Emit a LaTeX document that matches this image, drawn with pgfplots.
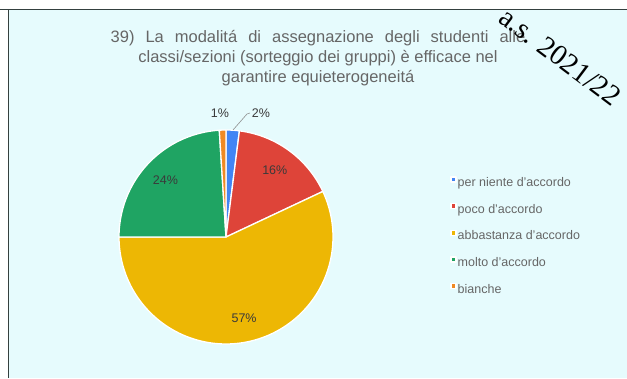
\documentclass[border=0pt]{standalone}
\usepackage{pgfplots}
\pgfplotsset{compat=1.18}
\usepackage{pgfplotstable}
\usepackage{fontspec}
\setmainfont{Liberation Sans}
\newfontfamily\serifx{Liberation Serif}
\definecolor{bg}{HTML}{E6FBFD}
\definecolor{frame}{HTML}{34403F}
\definecolor{sl0}{HTML}{4285F4}
\definecolor{sl1}{HTML}{DE4439}
\definecolor{sl2}{HTML}{EDB704}
\definecolor{sl3}{HTML}{1FA463}
\definecolor{sl4}{HTML}{F08A24}
\definecolor{tgray}{HTML}{666666}
\definecolor{lblgray}{HTML}{3A3A3A}

\pgfplotstableread{
label value
{per niente d'accordo} 2
{poco d'accordo} 16
{abbastanza d'accordo} 57
{molto d'accordo} 24
{bianche} 1
}\piedata

\tikzset{pielabel/.style={font=\fontsize{12.5}{14}\selectfont, text=lblgray, inner sep=0pt}}

\begin{document}
\begin{tikzpicture}[x=1pt,y=1pt]
\useasboundingbox (0,0) rectangle (627,378);
\clip (0,0) rectangle (627,378);
\fill[white] (0,0) rectangle (627,378);
\fill[bg] (9,0) rectangle (627,368.5);
\draw[line width=1.6pt, frame] (0,368.5) -- (627,368.5);
\draw[line width=1.6pt, frame] (8.5,0) -- (8.5,368.5);

\begin{axis}[at={(0pt,0pt)}, anchor=south west, scale only axis,
  width=627pt, height=378pt, xmin=0, xmax=627, ymin=0, ymax=378,
  hide axis, clip=false,
  legend cell align=left,
  legend image code/.code={\fill[#1] (0pt,1pt) rectangle (5pt,6pt);},
  legend style={at={(0.7177,0.537)}, anchor=north west, draw=none, fill=none,
    inner sep=0pt, row sep=11.25pt, column sep=0pt,
    font=\fontsize{12.5}{14}\selectfont, text=tgray,
    nodes={inner sep=1.2pt, text height=10pt, text depth=3pt}}]
\def\cum{0}
\pgfplotsforeachungrouped \i in {0,...,4}{%
  \pgfplotstablegetelem{\i}{value}\of\piedata \let\v\pgfplotsretval
  \pgfplotstablegetelem{\i}{label}\of\piedata \let\lab\pgfplotsretval
  \pgfmathsetmacro\a{90-3.6*\cum}%
  \pgfmathsetmacro\b{90-3.6*(\cum+\v)}%
  \pgfmathsetmacro\m{(\a+\b)/2}%
  \pgfmathsetmacro\lx{226+83*cos(\m)}%
  \pgfmathsetmacro\ly{141+83*sin(\m)}%
  \edef\temp{\noexpand\addplot[fill=sl\i, draw=white, line width=1.3pt, line join=round, domain=\b:\a, samples=100] ({226+107*cos(x)},{141+107*sin(x)}) -- (axis cs:226,141) -- cycle;
    \noexpand\addlegendentry{\lab}}%
  \temp
  \ifdim\v pt>4pt
    \edef\temp{\noexpand\node[pielabel] at (axis cs:\lx,\ly) {\v\noexpand\%};}\temp
  \fi
  \pgfmathsetmacro\cum{\cum+\v}%
}
\draw[color=black!45, line width=0.6pt] (axis cs:233,248) -- (axis cs:247,264) -- (axis cs:250,265);
\node[pielabel] at (axis cs:220,265) {1\%};
\node[pielabel] at (axis cs:261,265) {2\%};
\end{axis}

\node[font=\fontsize{16.5}{20}\selectfont, text=tgray, align=center] at (318,320)
  {{\spaceskip=11pt plus 1pt\relax 39) La modalitá di assegnazione degli studenti alle}\\classi/sezioni (sorteggio dei gruppi) è efficace nel\\garantire equieterogeneitá};
\node[font=\serifx\fontsize{29}{33}\selectfont, rotate=-37, anchor=base west, inner sep=0pt] at (497,357) {a.s. 2021/22};
\end{tikzpicture}
\end{document}
